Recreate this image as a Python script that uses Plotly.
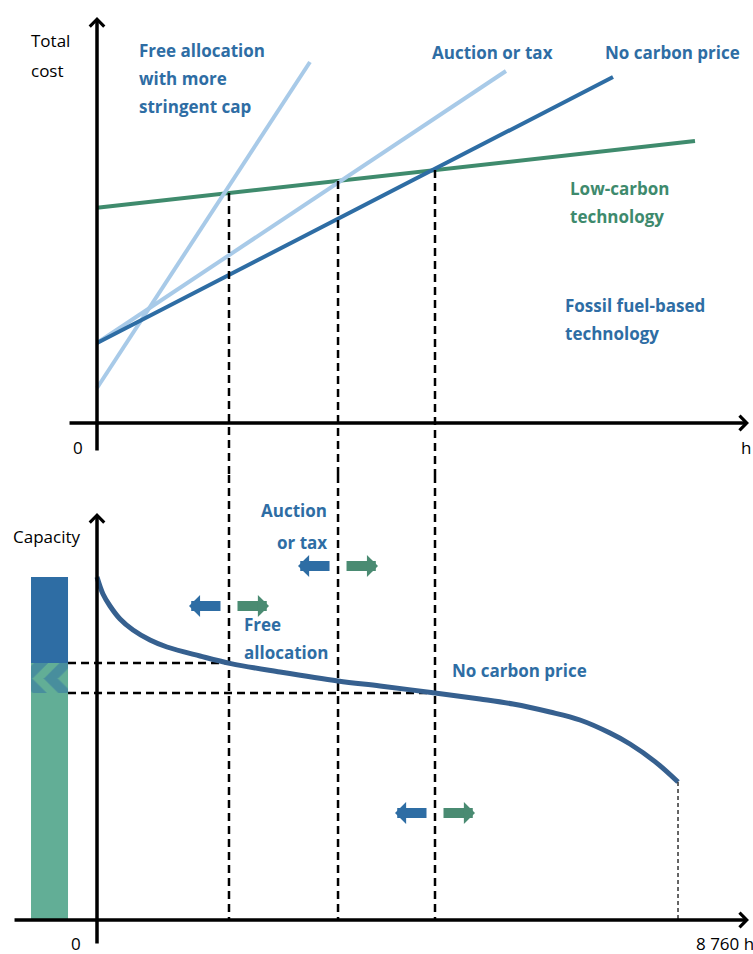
import numpy as np
import plotly.graph_objects as go

# ---------------- DATA ----------------
# Top panel: total cost (arbitrary units) vs operating hours
low_carbon_hours = [0, 9016]
low_carbon_cost = [53.8, 70.5]
no_carbon_hours = [0, 7780]
no_carbon_cost = [20, 86.5]
auction_hours = [0, 6166]
auction_cost = [20, 88]
free_alloc_hours = [0, 3211]
free_alloc_cost = [8.75, 90.25]

# switching points (hours): free allocation w/ stringent cap, auction/tax, no carbon price
switch_names = ["Free allocation", "Auction or tax", "No carbon price"]
switch_hours = [1990, 3634, 5096]
arrow_levels = [78.5, 88.5, 26.75]  # capacity level of the shift arrows

# Bottom panel: load duration curve (capacity vs hours)
duration_hours = [0, 90, 196, 347, 543, 799, 1055, 1553, 2020, 2759, 3634, 4267,
                  5096, 5775, 6272, 6830, 7282, 7735, 8036, 8413, 8760]
duration_cap = [85.75, 81.5, 78.5, 75.25, 72.5, 70, 68.25, 66, 64.1, 62, 59.75, 58.5,
                56.75, 55.25, 54, 52, 50, 46.75, 44, 39.6, 34.5]
year_hours = 8760

# ---------------- STYLE ----------------
DARK_BLUE = "#2e6da4"
LIGHT_BLUE = "#a8cae8"
GREEN_LINE = "#3f8b6d"
GREEN_TEXT = "#3e8a6d"
BAR_GREEN = "#62ae96"
CURVE = "#36608f"
ARROW_GREEN = "#4a8b72"
FONT = "Open Sans"

X_RANGE = [-1462.5, 9890.6]
Y1_RANGE = [-13, 105.75]
Y2_RANGE = [-8.5, 111.25]
SPLIT = 1 - 475 / 954
BAR_X, BAR_W = -716, 558

fig = go.Figure()

def line(x, y, color, width, ax="1", dash=None, shape="linear"):
    xa = "x" if ax == "1" else "x2"
    ya = "y" if ax == "1" else "y2"
    fig.add_trace(go.Scatter(x=x, y=y, mode="lines", xaxis=xa, yaxis=ya,
                             line=dict(color=color, width=width, dash=dash, shape=shape),
                             hoverinfo="skip", showlegend=False))

# ---- top panel lines ----
line(low_carbon_hours, low_carbon_cost, GREEN_LINE, 4)
line(free_alloc_hours, free_alloc_cost, LIGHT_BLUE, 4)
line(auction_hours, auction_cost, LIGHT_BLUE, 4)
line(no_carbon_hours, no_carbon_cost, DARK_BLUE, 4)

# ---- vertical dashed lines (crossing points) ----
DASH = "8px,5px"
green_at_switch = np.interp(switch_hours, low_carbon_hours, low_carbon_cost)
cap_at_switch = np.interp(switch_hours, duration_hours, duration_cap)
for h, c in zip(switch_hours, green_at_switch):
    line([h, h], [c, Y1_RANGE[0]], "black", 2.5, "1", DASH)
    line([h, h], [Y2_RANGE[1], 0], "black", 2.5, "2", DASH)

# ---- horizontal dashed lines to capacity bar ----
for i in (0, 2):
    line([BAR_X + BAR_W / 2, switch_hours[i]], [cap_at_switch[i], cap_at_switch[i]],
         "black", 2.5, "2", DASH)

# ---- capacity bar ----
low, high = cap_at_switch[2], cap_at_switch[0]
mid = (low + high) / 2
bar_parts = [
    (0, low, dict(color=BAR_GREEN)),
    (low, mid - low, dict(color=BAR_GREEN, pattern=dict(shape="\\", fgcolor=DARK_BLUE,
                                                        bgcolor=BAR_GREEN, size=18, solidity=0.55))),
    (mid, high - mid, dict(color=BAR_GREEN, pattern=dict(shape="/", fgcolor=DARK_BLUE,
                                                         bgcolor=BAR_GREEN, size=18, solidity=0.55))),
    (high, duration_cap[0] - high, dict(color=DARK_BLUE)),
]
for base, hgt, mk in bar_parts:
    fig.add_trace(go.Bar(x=[BAR_X], y=[hgt], base=[base], width=[BAR_W], marker=mk,
                         marker_line_width=0, xaxis="x2", yaxis="y2",
                         hoverinfo="skip", showlegend=False))

# ---- duration curve ----
line(duration_hours, duration_cap, CURVE, 5, "2", None, "spline")
line([year_hours, year_hours], [duration_cap[-1], 0], "black", 1.2, "2", "4px,3px")

annotations = []

# ---- axes with arrowheads ----
def axis_arrow(xref, yref, x0, y0, x1, y1):
    annotations.append(dict(x=x1, y=y1, ax=x0, ay=y0, xref=xref, yref=yref,
                            axref=xref, ayref=yref, text="", showarrow=True,
                            arrowhead=4, arrowwidth=3.5, arrowsize=0.8,
                            arrowcolor="black", standoff=0))

axis_arrow("x", "y", 0, -7.25, 0, 101.5)
axis_arrow("x", "y", -437, 0, 9830, 0)
axis_arrow("x2", "y2", 0, -6.25, 0, 101.75)
axis_arrow("x2", "y2", -1266, 0, 9830, 0)

# ---- shift arrows ----
for h, lvl in zip(switch_hours, arrow_levels):
    annotations.append(dict(x=h, y=lvl, xref="x2", yref="y2", ax=33, ay=0, xshift=-40,
                            text="", showarrow=True, arrowhead=1, arrowwidth=10,
                            arrowsize=0.37, arrowcolor=DARK_BLUE, standoff=0))
    annotations.append(dict(x=h, y=lvl, xref="x2", yref="y2", ax=-33, ay=0, xshift=40,
                            text="", showarrow=True, arrowhead=1, arrowwidth=10,
                            arrowsize=0.37, arrowcolor=ARROW_GREEN, standoff=0))

# ---- labels ----
def label(text, x, y, xref, yref, color, bold=True, anchor="left", size=17):
    annotations.append(dict(text=text, x=x, y=y, xref=xref, yref=yref, showarrow=False,
                            xanchor=anchor, yanchor="middle",
                            font=dict(family=FONT, size=size, color=color,
                                      weight=700 if bold else 400)))

label("Free allocation", 603, 93.25, "x", "y", DARK_BLUE)
label("with more", 603, 86.25, "x", "y", DARK_BLUE)
label("stringent cap", 603, 79.25, "x", "y", DARK_BLUE)
label("Auction or tax", 5021, 92.75, "x", "y", DARK_BLUE)
label("No carbon price", 7629, 92.75, "x", "y", DARK_BLUE)
label("Low-carbon", 7101, 58.75, "x", "y", GREEN_TEXT)
label("technology", 7101, 51.75, "x", "y", GREEN_TEXT)
label("Fossil fuel-based", 7026, 29.5, "x", "y", DARK_BLUE)
label("technology", 7026, 22.5, "x", "y", DARK_BLUE)
label("Total", -1025, 95.75, "x", "y", "black", False)
label("cost", -1025, 88.25, "x", "y", "black", False)
label("0", -286, -6, "x", "y", "black", False, "center")
label("h", 9680, -6, "x", "y", "black", False)

label("Capacity", -1290, 96, "x2", "y2", "black", False)
label("Auction", 3498, 102.5, "x2", "y2", DARK_BLUE, True, "right")
label("or tax", 3498, 94.5, "x2", "y2", DARK_BLUE, True, "right")
label("Free", 2186, 74, "x2", "y2", DARK_BLUE)
label("allocation", 2186, 67, "x2", "y2", DARK_BLUE)
label("No carbon price", 5322, 62.5, "x2", "y2", DARK_BLUE)
label("0", -317, -5.9, "x2", "y2", "black", False, "center")
label("8 760 h", 9001, -5.9, "x2", "y2", "black", False)

hidden = dict(visible=False, showgrid=False, zeroline=False, fixedrange=True)
fig.update_layout(
    width=753, height=954,
    margin=dict(l=0, r=0, t=0, b=0),
    paper_bgcolor="white", plot_bgcolor="white",
    showlegend=False, barmode="overlay",
    xaxis=dict(domain=[0, 1], range=X_RANGE, anchor="y", **hidden),
    yaxis=dict(domain=[SPLIT, 1], range=Y1_RANGE, anchor="x", **hidden),
    xaxis2=dict(domain=[0, 1], range=X_RANGE, anchor="y2", **hidden),
    yaxis2=dict(domain=[0, SPLIT], range=Y2_RANGE, anchor="x2", **hidden),
    annotations=annotations,
)

fig.write_html("out.html", config={"displayModeBar": False},
               post_script="document.body.style.margin='0';document.body.style.overflow='hidden';")
